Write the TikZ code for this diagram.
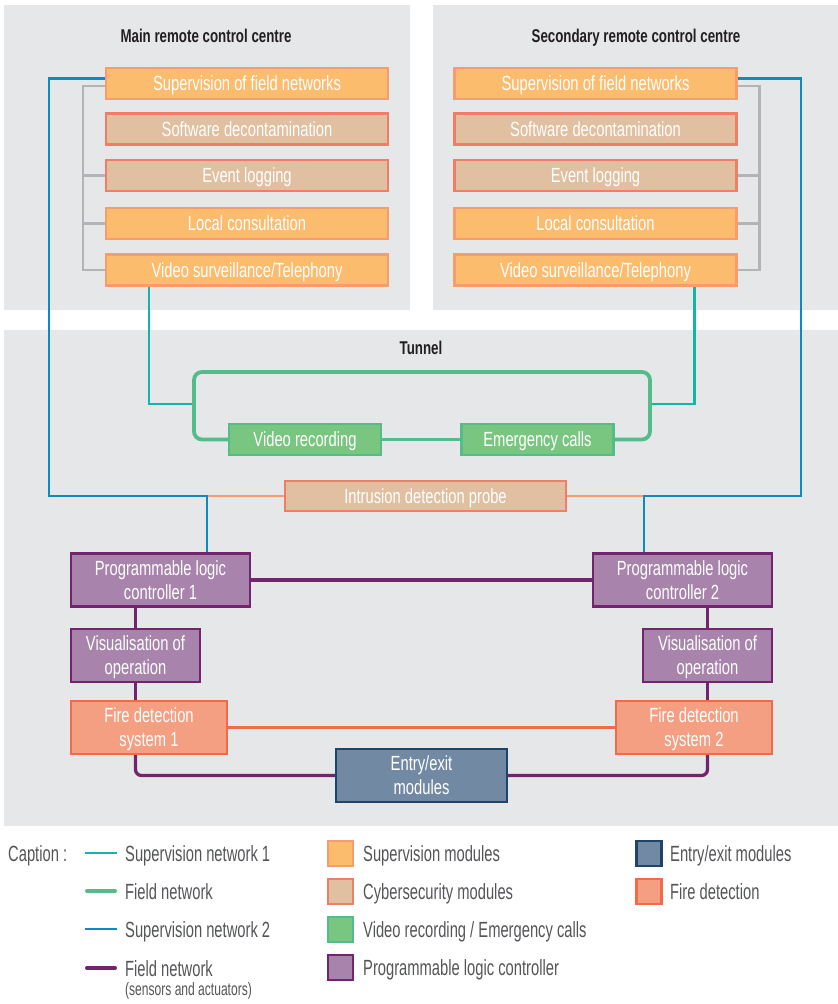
\documentclass[tikz,border=0pt]{standalone}
\usepackage{fontspec}
\setmainfont[FakeStretch=0.72]{Liberation Sans}
\newfontfamily\legendfont[FakeStretch=0.67]{Liberation Sans}
\usetikzlibrary{positioning}

\definecolor{panel}{HTML}{E6E7E9}
\definecolor{supfill}{HTML}{FBBC6E}
\definecolor{supdraw}{HTML}{F79C6D}
\definecolor{cyfill}{HTML}{E0C0A0}
\definecolor{cydraw}{HTML}{F07E67}
\definecolor{grfill}{HTML}{79C680}
\definecolor{grdraw}{HTML}{52BD8A}
\definecolor{plfill}{HTML}{A883AC}
\definecolor{pldraw}{HTML}{74246F}
\definecolor{fifill}{HTML}{F49F82}
\definecolor{fidraw}{HTML}{F26A48}
\definecolor{iofill}{HTML}{7289A4}
\definecolor{iodraw}{HTML}{1D4469}
\definecolor{tealnet}{HTML}{13B5A8}
\definecolor{bluenet}{HTML}{0B8BC1}
\definecolor{graynet}{HTML}{B2B4B7}
\definecolor{titlecol}{HTML}{231F20}
\definecolor{legcol}{HTML}{545557}

\begin{document}
\begin{tikzpicture}[x=1pt,y=-1pt,
    box/.style={draw,line width=2.2pt,text=white,align=center,inner sep=0pt,text depth=0pt,
      font=\fontsize{20.5}{24}\selectfont},
    supmod/.style={box,fill=supfill,draw=supdraw,minimum width=282pt,minimum height=31pt},
    cymod/.style={box,fill=cyfill,draw=cydraw,minimum width=282pt,minimum height=31pt},
    grmod/.style={box,fill=grfill,draw=grdraw,minimum width=152pt,minimum height=31pt},
    plmod/.style={box,fill=plfill,draw=pldraw,minimum height=53pt},
    fimod/.style={box,fill=fifill,draw=fidraw,minimum width=156pt,minimum height=53pt},
    iomod/.style={box,fill=iofill,draw=iodraw,minimum width=171pt,minimum height=53pt},
    title/.style={text=titlecol,text depth=0pt,font=\fontsize{18.5}{22}\selectfont\bfseries},
    supnet1/.style={draw=tealnet,line width=2.4pt},
    supnet2/.style={draw=bluenet,line width=2.4pt},
    fieldnet/.style={draw=grdraw,line width=3.8pt},
    plcnet/.style={draw=pldraw,line width=3.3pt},
    firenet/.style={draw=fidraw,line width=3.3pt},
    probenet/.style={draw=supdraw,line width=1.8pt},
    bracket/.style={draw=graynet,line width=2.4pt},
    legtext/.style={text=legcol,inner sep=0pt,anchor=base west,
      font=\legendfont\fontsize{22}{26}\selectfont},
    legsq/.style={draw,line width=2.2pt,minimum size=25pt,inner sep=0pt}]
  \useasboundingbox (0,0) rectangle (838,1004);

  % panels
  \fill[panel] (4,5) rectangle (410,310);
  \fill[panel] (433,5) rectangle (838,310);
  \fill[panel] (4,330) rectangle (838,826);
  \node [title] (tmain) at (206,36)  {Main remote control centre};
  \node [title] (tsec)  at (636,36)  {Secondary remote control centre};
  \node [title] (ttun)  at (421,348) {Tunnel};

  % main remote control centre
  \node [supmod] (supL) at (247,83.5)  {Supervision of field networks};
  \node [cymod]  (sdL)  at (247,129)   {Software decontamination};
  \node [cymod]  (elL)  at (247,175.5) {Event logging};
  \node [supmod] (lcL)  at (247,223.5) {Local consultation};
  \node [supmod] (vsL)  at (247,270)   {Video surveillance/Telephony};

  % secondary remote control centre
  \node [supmod] (supR) at (595.5,83.5)  {Supervision of field networks};
  \node [cymod]  (sdR)  at (595.5,129)   {Software decontamination};
  \node [cymod]  (elR)  at (595.5,175.5) {Event logging};
  \node [supmod] (lcR)  at (595.5,223.5) {Local consultation};
  \node [supmod] (vsR)  at (595.5,270)   {Video surveillance/Telephony};

  % tunnel
  \node [grmod] (vrec)  at (305,439.5)   {Video recording};
  \node [grmod] (ecall) at (537.5,439.5) {Emergency calls};
  \node [cymod,minimum width=281pt,minimum height=30pt] (probe) at (425.5,496) {Intrusion detection probe};
  \node [plmod,minimum width=179pt] (plc1) at (160.5,580) {Programmable logic\\controller 1};
  \node [plmod,minimum width=179pt] (plc2) at (682.5,580) {Programmable logic\\controller 2};
  \node [plmod,minimum width=129pt] (vis1) at (135.5,655.5) {Visualisation of\\operation};
  \node [plmod,minimum width=129pt] (vis2) at (707.5,655.5) {Visualisation of\\operation};
  \node [fimod] (fire1) at (149,727.5) {Fire detection\\system 1};
  \node [fimod] (fire2) at (694,727.5) {Fire detection\\system 2};
  \node [iomod] (entry) at (421.5,775.5) {Entry/exit\\modules};

  \coordinate (bL) at (49,496);
  \coordinate (jL) at (207,496);
  \coordinate (bR) at (801,496);
  \coordinate (jR) at (644,496);
  \coordinate (gL) at (194,404);
  \coordinate (gR) at (650,404);
  \coordinate (gTL) at (194,372);
  \coordinate (gTR) at (650,372);

  % gray links
  \draw[bracket] ([yshift=-2.5pt]supL.west) -- ++(-22,0) |- (vsL.west);
  \draw[bracket] (elL.west) -- ++(-22,0) (lcL.west) -- ++(-22,0);
  \draw[bracket] ([yshift=-2.5pt]supR.east) -- ++(22,0) |- (vsR.east);
  \draw[bracket] (elR.east) -- ++(22,0) (lcR.east) -- ++(22,0);

  % supervision network 2
  \draw[probenet] (jL) -- (probe.west) (probe.east) -- (jR);
  \draw[supnet2] ([yshift=5pt]supL.west) -| (bL) -- (jL) -- (jL |- plc1.north);
  \draw[supnet2] ([yshift=5pt]supR.east) -| (bR) -- (jR) -- (jR |- plc2.north);

  % supervision network 1
  \draw[supnet1] ([xshift=-98pt]vsL.south) |- (gL);
  \draw[supnet1] ([xshift=99pt]vsR.south) |- (gR);

  % field network
  \draw[fieldnet,rounded corners=8pt] (vrec.west) -| (gTL) -| (ecall.east -| gTR) -- (ecall.east);
  \draw[fieldnet] (vrec.east) -- (ecall.west);

  % field network (sensors and actuators)
  \draw[plcnet] (plc1.east) -- (plc2.west);
  \draw[plcnet] (vis1.north |- plc1.south) -- (vis1.north);
  \draw[plcnet] (vis1.south) -- (vis1.south |- fire1.north);
  \draw[plcnet] (vis2.north |- plc2.south) -- (vis2.north);
  \draw[plcnet] (vis2.south) -- (vis2.south |- fire2.north);
  \draw[plcnet,rounded corners=6pt] (fire1.south -| vis1.south) |- (entry.west);
  \draw[plcnet,rounded corners=6pt] (entry.east) -| (fire2.south -| vis2.south);
  \draw[firenet] (fire1.east) -- (fire2.west);

  % caption
  \node [legtext] (cap) at (8,861.5) {Caption :};
  \draw[supnet1] (85,853) -- (117,853);
  \draw[fieldnet,line width=4pt,line cap=round] (87,891) -- (115,891);
  \draw[supnet2] (85,929) -- (117,929);
  \draw[plcnet,line width=4pt,line cap=round] (87,968) -- (115,968);
  \node [legtext] (l1) at (125,861.5) {Supervision network 1};
  \node [legtext] (l2) at (125,899.5) {Field network};
  \node [legtext] (l3) at (125,937.5) {Supervision network 2};
  \node [legtext] (l4) at (125,976.5) {Field network};
  \node [legtext,font=\legendfont\fontsize{18}{20}\selectfont] (l4b) at (125,995) {(sensors and actuators)};

  \node [legsq,fill=supfill,draw=supdraw] (q1) at (340.5,853.5) {};
  \node [legsq,fill=cyfill,draw=cydraw]   (q2) at (340.5,891.5) {};
  \node [legsq,fill=grfill,draw=grdraw]   (q3) at (340.5,929.5) {};
  \node [legsq,fill=plfill,draw=pldraw]   (q4) at (340.5,967.5) {};
  \node [legsq,fill=iofill,draw=iodraw]   (q5) at (649,853.5) {};
  \node [legsq,fill=fifill,draw=fidraw]   (q6) at (649,891.5) {};
  \node [legtext] (t1) at (363,861.5) {Supervision modules};
  \node [legtext] (t2) at (363,899.5) {Cybersecurity modules};
  \node [legtext] (t3) at (363,937.5) {Video recording / Emergency calls};
  \node [legtext] (t4) at (363,975.5) {Programmable logic controller};
  \node [legtext] (t5) at (670,861.5) {Entry/exit modules};
  \node [legtext] (t6) at (670,899.5) {Fire detection};
\end{tikzpicture}
\end{document}
